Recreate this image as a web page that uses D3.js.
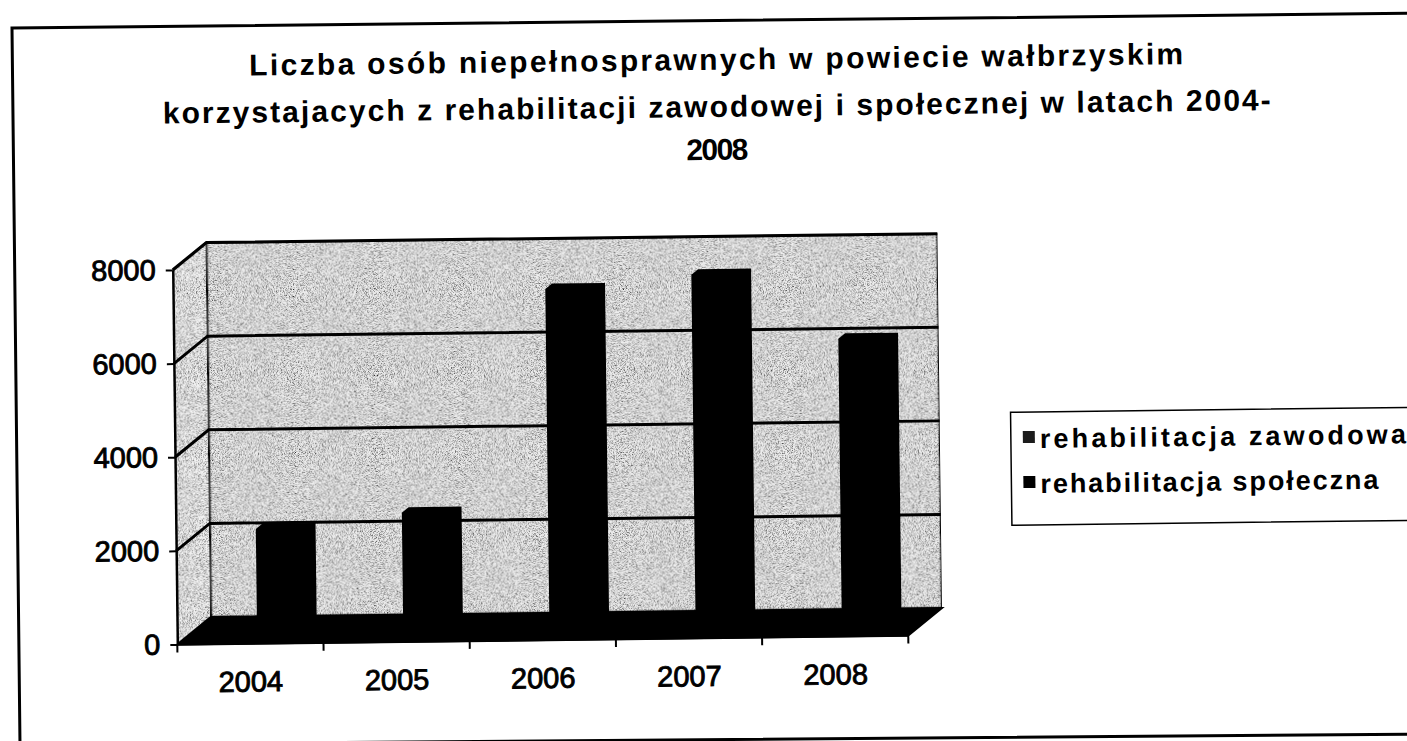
<!DOCTYPE html>
<html>
<head>
<meta charset="utf-8">
<script src="https://cdn.jsdelivr.net/npm/d3@7"></script>
<style>
  body { margin: 0; background: #fff; overflow: hidden; }
  text { font-family: "Liberation Sans", Arial, sans-serif; fill: #000; }
</style>
</head>
<body>
<div id="chart"></div>
<script>
// chart data
const years = ["2004", "2005", "2006", "2007", "2008"];
const zawodowa = [150, 120, 200, 220, 250];
const spoleczna = [2330, 2640, 7380, 7650, 6240];
const seriesNames = ["rehabilitacja zawodowa", "rehabilitacja społeczna"];
const seriesColors = ["#000000", "#000000"];
const yTicks = [0, 2000, 4000, 6000, 8000];
const titleLines = [
  "Liczba osób niepełnosprawnych w powiecie wałbrzyskim",
  "korzystajacych z rehabilitacji zawodowej i społecznej w latach 2004-",
  "2008"
];

const W = 1407, H = 741;

let svg = d3.select('#chart').append('svg')
    .attr('width', W)
    .attr('height', H)
    .style('display', 'block')
    .style('background', 'white');

// grainy look of the scanned walls
let defs = svg.append('defs');
let f = defs.append('filter').attr('id', 'grain')
    .attr('x', 0).attr('y', 0).attr('width', 1).attr('height', 1);
f.append('feTurbulence').attr('type', 'fractalNoise').attr('baseFrequency', 1.3)
    .attr('numOctaves', 1).attr('seed', 5).attr('result', 'noise');
f.append('feColorMatrix').attr('in', 'noise').attr('type', 'matrix')
    .attr('values', '0 0 0 0 0  0 0 0 0 0  0 0 0 0 0  2.6 0 0 0 -1.05')
    .attr('result', 'specks');
f.append('feComposite').attr('in', 'specks').attr('in2', 'SourceGraphic')
    .attr('operator', 'in').attr('result', 'clipped');
let fm = f.append('feMerge');
fm.append('feMergeNode').attr('in', 'SourceGraphic');
fm.append('feMergeNode').attr('in', 'clipped');

// outer frame of the scanned page (slightly skewed)
svg.append('polygon')
    .attr('points', '12,28 1440,13 1440,734 20,745')
    .attr('fill', 'none').attr('stroke', '#000').attr('stroke-width', 3);

// whole chart is a bit tilted
let g = svg.append('g').attr('transform', 'rotate(-0.7, 704, 370)');

// title
g.selectAll('text.title')
  .data(titleLines)
  .join('text')
    .attr('class', 'title')
    .attr('x', 720)
    .attr('y', (d, i) => [70, 117, 160][i])
    .attr('text-anchor', 'middle')
    .attr('font-size', 30)
    .attr('font-weight', 'bold')
    .attr('textLength', (d, i) => [934, 1108, 62][i])
    .attr('lengthAdjust', 'spacing')
    .text(d => d);

// scales
let x = d3.scaleBand().domain(years).range([174, 905]);
let xs = d3.scaleBand().domain([0, 1]).range([0, x.bandwidth()]).paddingOuter(0.38);
let y = d3.scaleLinear().domain([0, 8000]).range([638, 263.5]);

// depth of the 3d box
const DX = 34, DY = 27;
const P = (px, py, z) => [px + DX * z, py - DY * z];
const poly = pts => pts.map(p => p.join(',')).join(' ');

const x0 = x.range()[0], x1 = x.range()[1];
const yMax = y(8000), y0 = y(0);

// side wall
g.append('polygon')
    .attr('points', poly([P(x0, y0, 0), P(x0, yMax, 0), P(x0, yMax, 1), P(x0, y0, 1)]))
    .attr('fill', '#f4f4f4').attr('filter', 'url(#grain)')
    .attr('stroke', '#000').attr('stroke-width', 2);

// back wall
g.append('polygon')
    .attr('points', poly([P(x0, y0, 1), P(x0, yMax, 1), P(x1, yMax, 1), P(x1, y0, 1)]))
    .attr('fill', '#eeeeee').attr('filter', 'url(#grain)')
    .attr('stroke', '#000').attr('stroke-width', 2.5);

// gridlines on the walls
let grid = g.append('g');
yTicks.filter(v => v > 0).forEach(v => {
  grid.append('polyline')
      .attr('points', poly([P(x0, y(v), 0), P(x0, y(v), 1), P(x1, y(v), 1)]))
      .attr('fill', 'none').attr('stroke', '#000').attr('stroke-width', 3);
});

// floor
g.append('polygon')
    .attr('points', poly([P(x0, y0, 0), P(x0, y0, 1), P(x1, y0, 1), P(x1, y0, 0)]))
    .attr('fill', '#000').attr('stroke', '#000').attr('stroke-width', 2);

// bars
const z1 = 0.2, z2 = 0.4;
let bars = [];
years.forEach((yr, i) => {
  [zawodowa[i], spoleczna[i]].forEach((v, s) => {
    bars.push({ year: yr, s: s, v: v });
  });
});

g.append('g').selectAll('polygon')
  .data(bars)
  .join('polygon')
    .attr('points', d => {
      let l = x(d.year) + xs(d.s);
      let r = l + xs.bandwidth();
      let t = y(d.v);
      return poly([P(l, y0, z1), P(l, t, z1), P(l, t, z2), P(r, t, z2), P(r, y0, z2), P(r, y0, z1)]);
    })
    .attr('fill', d => seriesColors[d.s]);

// y axis
let yAxis = g.append('g')
    .attr('transform', `translate(${x0},0)`)
    .call(d3.axisLeft(y).tickValues(yTicks).tickFormat(d3.format('d'))
      .tickSize(7).tickSizeOuter(0).tickPadding(10));
yAxis.select('.domain').attr('stroke', '#000').attr('stroke-width', 2.5);
yAxis.selectAll('.tick line').attr('stroke', '#000').attr('stroke-width', 2);
yAxis.selectAll('.tick text')
    .attr('font-size', 29)
    .attr('font-family', '"Liberation Sans", Arial, sans-serif')
    .attr('stroke', '#000').attr('stroke-width', 0.9);

// x axis: front edge, ticks between categories, labels
g.append('line')
    .attr('x1', x0).attr('x2', x1).attr('y1', y0).attr('y2', y0)
    .attr('stroke', '#000').attr('stroke-width', 2.5);
g.append('g').selectAll('line')
  .data(years.map(d => x(d)).concat([x1]))
  .join('line')
    .attr('x1', d => d).attr('x2', d => d)
    .attr('y1', y0).attr('y2', y0 + 8)
    .attr('stroke', '#000').attr('stroke-width', 2);
g.append('g').selectAll('text')
  .data(years)
  .join('text')
    .attr('x', d => x(d) + x.bandwidth() / 2)
    .attr('y', 686)
    .attr('text-anchor', 'middle')
    .attr('font-size', 29)
    .attr('stroke', '#000').attr('stroke-width', 0.9)
    .text(d => d);

// legend
let lg = g.append('g');
lg.append('rect')
    .attr('x', 1010).attr('y', 416)
    .attr('width', 440).attr('height', 113)
    .attr('fill', '#fff').attr('stroke', '#000').attr('stroke-width', 1.5);
let items = lg.selectAll('g.item')
  .data(seriesNames)
  .join('g')
    .attr('class', 'item')
    .attr('transform', (d, i) => `translate(0,${i * 45})`);
items.append('rect')
    .attr('x', 1022).attr('y', 435)
    .attr('width', 12).attr('height', 12)
    .attr('fill', (d, i) => i === 0 ? '#1c1c1c' : '#000');
items.append('text')
    .attr('x', 1039).attr('y', 452)
    .attr('font-size', 27)
    .attr('font-weight', 'bold')
    .attr('textLength', (d, i) => [366, 338][i])
    .attr('lengthAdjust', 'spacing')
    .text(d => d);
</script>
</body>
</html>
